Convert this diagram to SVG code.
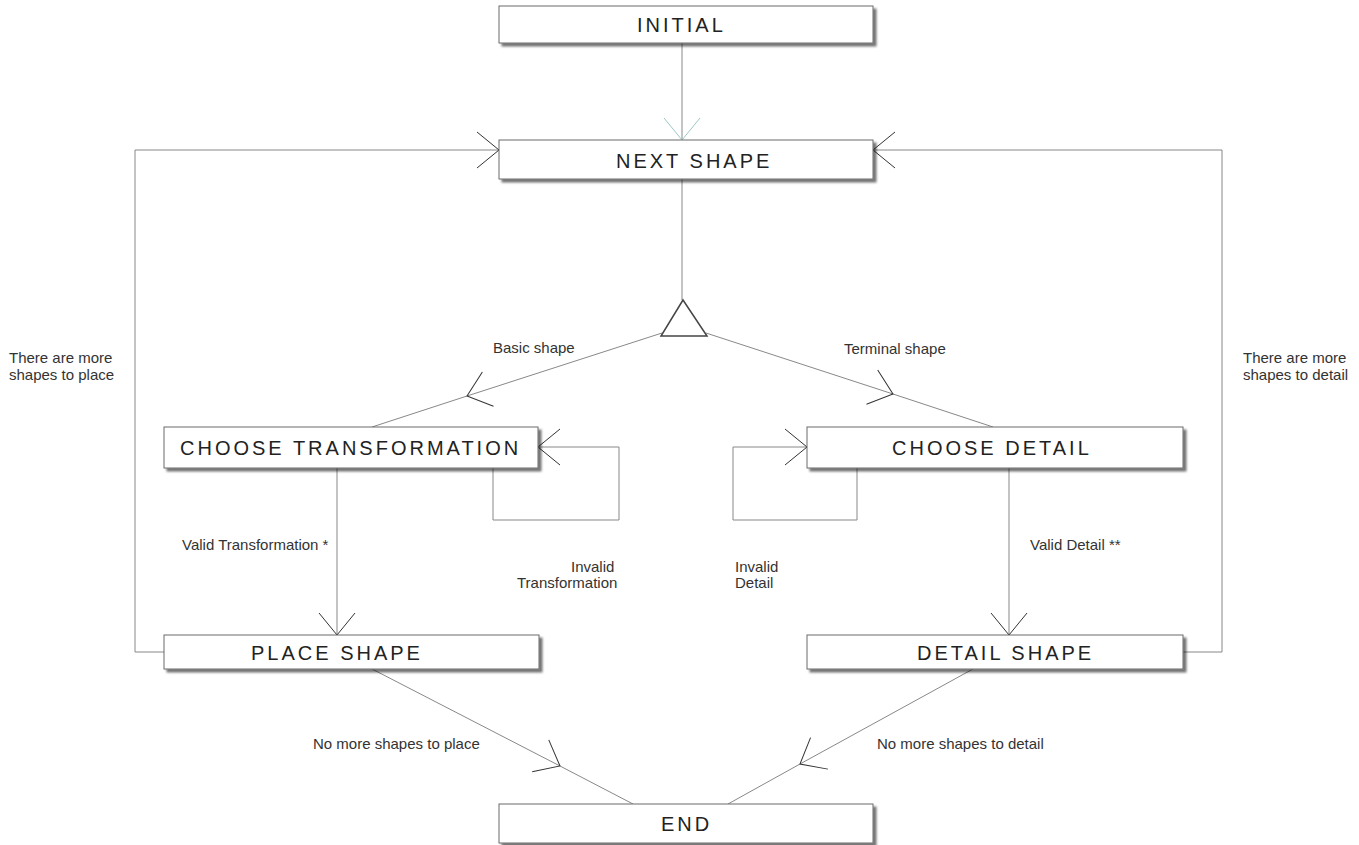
<svg xmlns="http://www.w3.org/2000/svg" width="1359" height="845" viewBox="0 0 1359 845">
<style>
.box{fill:#fff;stroke:#6a6a6a;stroke-width:1;filter:url(#sh)}
.title{font-family:"Liberation Sans",Arial,sans-serif;font-size:20px;letter-spacing:3px;fill:#222}
.lbl{font-family:"Liberation Sans",Arial,sans-serif;font-size:15px;fill:#333}
.ln{fill:none;stroke:#888;stroke-width:1}
.ar{marker-end:url(#arr)}
.am{marker-mid:url(#arr)}
</style>
<defs>
<filter id="sh" x="-5%" y="-20%" width="110%" height="150%">
<feDropShadow dx="3" dy="3" stdDeviation="1.3" flood-color="#000" flood-opacity="0.55"/>
</filter>
<marker id="arr" markerUnits="userSpaceOnUse" viewBox="-24 -20 26 40" refX="0" refY="0" markerWidth="26" markerHeight="40" orient="auto">
<path d="M-22,-18 L0,0 L-22,18" fill="none" stroke="#333" stroke-width="1"/>
</marker>
<marker id="arrT" markerUnits="userSpaceOnUse" viewBox="-24 -20 26 40" refX="0" refY="0" markerWidth="26" markerHeight="40" orient="auto">
<path d="M-22,-18 L0,0 L-22,18" fill="none" stroke="#9cc8c8" stroke-width="1"/>
</marker>
</defs>
<rect width="1359" height="845" fill="#fff"/>
<g id="connectors">
<path class="ln" d="M682,43 L682,140" marker-end="url(#arrT)"/>
<path class="ln" d="M682,179 L682,300"/>
<path class="ln am" d="M662,333 L467,396 L372,427"/>
<path class="ln am" d="M706,333 L893,394 L993,427"/>
<path class="ln" d="M164,652 L135,652 L135,150 L499,150" marker-end="url(#arr)"/>
<path class="ln" d="M1183,652 L1222,652 L1222,150 L873,150" marker-end="url(#arr)"/>
<path class="ln ar" d="M493,468 L493,520 L619,520 L619,447 L538,447"/>
<path class="ln ar" d="M857,468 L857,520 L733,520 L733,447 L807,447"/>
<path class="ln ar" d="M337,468 L337,635"/>
<path class="ln ar" d="M1009,468 L1009,635"/>
<path class="ln am" d="M372,669 L560,766 L633,804"/>
<path class="ln am" d="M973,669 L800,764 L728,804"/>
<text class="lbl" x="493" y="353">Basic shape</text>
<text class="lbl" x="844" y="354">Terminal shape</text>
<text class="lbl" x="9" y="363">There are more</text>
<text class="lbl" x="9" y="380">shapes to place</text>
<text class="lbl" x="1243" y="363">There are more</text>
<text class="lbl" x="1243" y="380">shapes to detail</text>
<text class="lbl" x="182" y="550">Valid Transformation *</text>
<text class="lbl" x="571" y="572">Invalid</text>
<text class="lbl" x="517" y="588">Transformation</text>
<text class="lbl" x="735" y="572">Invalid</text>
<text class="lbl" x="735" y="588">Detail</text>
<text class="lbl" x="1030" y="550">Valid Detail **</text>
<text class="lbl" x="313" y="749">No more shapes to place</text>
<text class="lbl" x="877" y="749">No more shapes to detail</text>
</g>
<g id="decision">
<path d="M683,300 L661,336 L707,336 Z" fill="#fff" stroke="#444" stroke-width="1.5"/>
</g>
<g id="initial"><rect class="box" x="499" y="6" width="374" height="37"/><text class="title" x="637" y="32">INITIAL</text></g>
<g id="next-shape"><rect class="box" x="499" y="140" width="374" height="39"/><text class="title" x="616" y="168">NEXT SHAPE</text></g>
<g id="choose-transformation"><rect class="box" x="164" y="427" width="374" height="41"/><text class="title" x="180" y="455">CHOOSE TRANSFORMATION</text></g>
<g id="choose-detail"><rect class="box" x="807" y="427" width="376" height="41"/><text class="title" x="892" y="455">CHOOSE DETAIL</text></g>
<g id="place-shape"><rect class="box" x="164" y="635" width="375" height="34"/><text class="title" x="251" y="660">PLACE SHAPE</text></g>
<g id="detail-shape"><rect class="box" x="807" y="635" width="376" height="34"/><text class="title" x="917" y="660">DETAIL SHAPE</text></g>
<g id="end"><rect class="box" x="499" y="804" width="374" height="39"/><text class="title" x="661" y="831">END</text></g>
</svg>
